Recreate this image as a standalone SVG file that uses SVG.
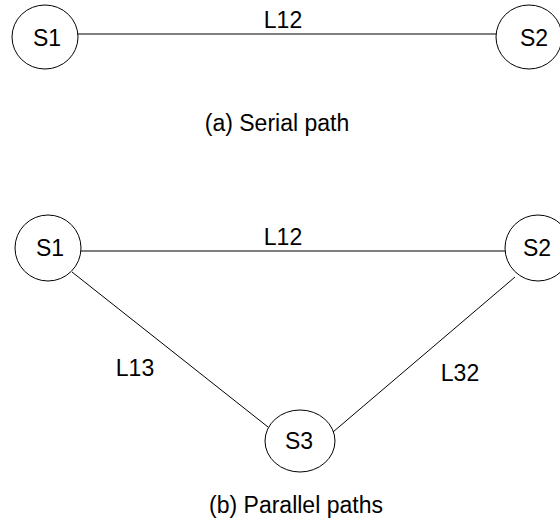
<svg xmlns="http://www.w3.org/2000/svg" width="560" height="525" viewBox="0 0 560 525">
<style>
.node ellipse{fill:#fff;stroke:#000;stroke-width:1}
.edges line{stroke:#000;stroke-width:1}
text{font-family:"Liberation Sans",Arial,Helvetica,sans-serif;font-size:23px;fill:#000;text-anchor:middle}
</style>
<rect width="560" height="525" fill="#fff"/>
<g id="edges" class="edges">
<line x1="77" y1="34" x2="496" y2="34"/>
<line x1="81" y1="251" x2="505" y2="251"/>
<line x1="72" y1="272" x2="268" y2="427"/>
<line x1="515" y1="277" x2="333" y2="432"/>
</g>
<g id="a-S1" class="node"><ellipse cx="45" cy="37" rx="33" ry="32"/><text x="47" y="46">S1</text></g>
<g id="a-S2" class="node"><ellipse cx="529" cy="37" rx="33" ry="32"/><text x="534" y="46">S2</text></g>
<g id="b-S1" class="node"><ellipse cx="48" cy="248" rx="33" ry="33"/><text x="50" y="256">S1</text></g>
<g id="b-S2" class="node"><ellipse cx="538" cy="248" rx="33" ry="33"/><text x="537" y="256">S2</text></g>
<g id="b-S3" class="node"><ellipse cx="300" cy="441" rx="35" ry="31"/><text x="299" y="449">S3</text></g>
<g id="labels">
<text x="283" y="28">L12</text>
<text x="283" y="245">L12</text>
<text x="135" y="376">L13</text>
<text x="460" y="381">L32</text>
<text x="277" y="131">(a) Serial path</text>
<text x="296" y="513">(b) Parallel paths</text>
</g>
</svg>
